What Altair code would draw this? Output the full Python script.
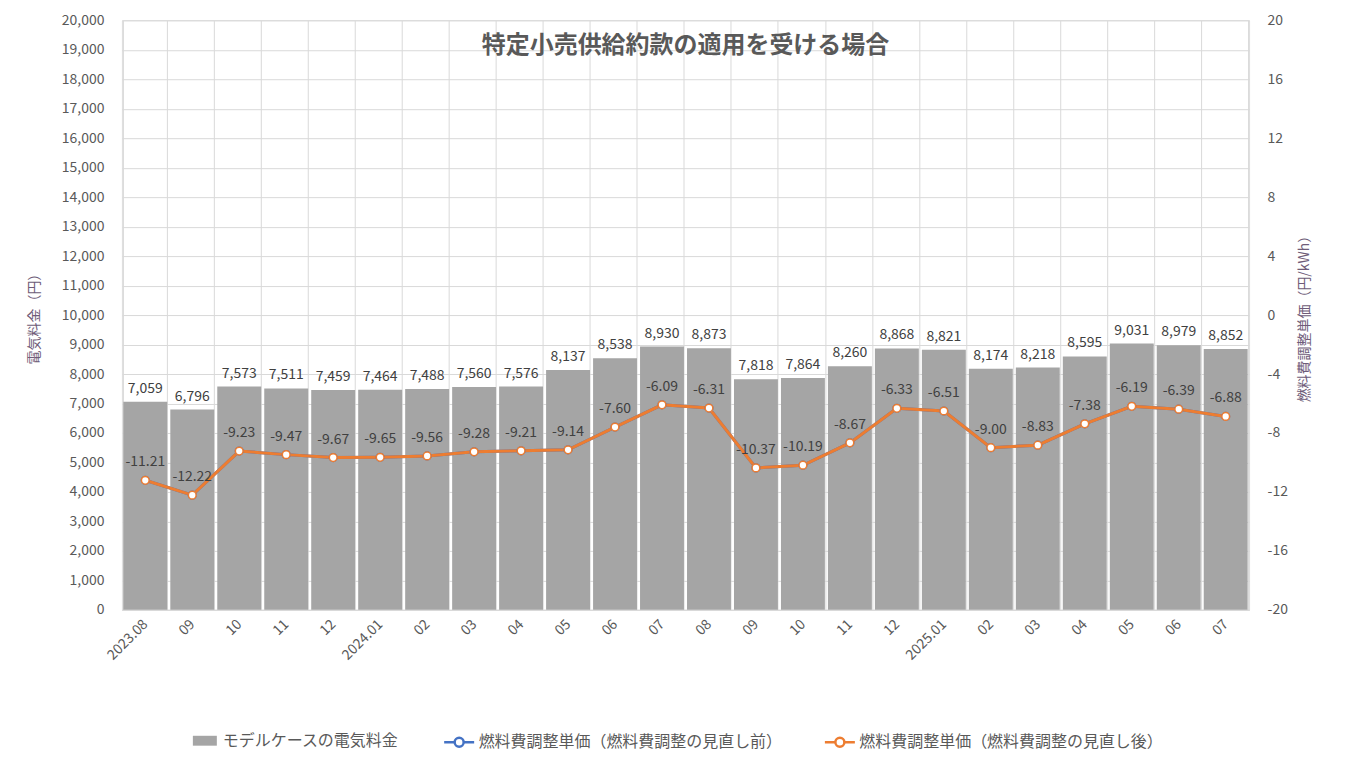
import json
import altair as alt
import pandas as pd

# ---------------- data ----------------
month_keys = [
    "2023.08", "2023.09", "2023.10", "2023.11", "2023.12",
    "2024.01", "2024.02", "2024.03", "2024.04", "2024.05", "2024.06",
    "2024.07", "2024.08", "2024.09", "2024.10", "2024.11", "2024.12",
    "2025.01", "2025.02", "2025.03", "2025.04", "2025.05", "2025.06", "2025.07",
]
tick_labels = [
    "2023.08", "09", "10", "11", "12",
    "2024.01", "02", "03", "04", "05", "06",
    "07", "08", "09", "10", "11", "12",
    "2025.01", "02", "03", "04", "05", "06", "07",
]
bill_yen = [
    7059, 6796, 7573, 7511, 7459, 7464, 7488, 7560, 7576, 8137, 8538, 8930,
    8873, 7818, 7864, 8260, 8868, 8821, 8174, 8218, 8595, 9031, 8979, 8852,
]
unit_after = [
    -11.21, -12.22, -9.23, -9.47, -9.67, -9.65, -9.56, -9.28, -9.21, -9.14,
    -7.60, -6.09, -6.31, -10.37, -10.19, -8.67, -6.33, -6.51, -9.00, -8.83,
    -7.38, -6.19, -6.39, -6.88,
]
unit_before = [
    -11.21, -12.22, -9.23, -9.47, -9.67, -9.65, -9.56, -9.28, -9.21, -9.14,
    -7.60, -6.09, -6.31, -10.37, -10.19, -8.67, -6.33, -6.51, -9.00, -8.83,
    -7.38, -6.19, -6.39, -6.88,
]

bar_name = "モデルケースの電気料金"
before_name = "燃料費調整単価（燃料費調整の見直し前）"
after_name = "燃料費調整単価（燃料費調整の見直し後）"
title_text = "特定小売供給約款の適用を受ける場合"

GRAY = "#A5A5A5"
BLUE = "#4472C4"
ORANGE = "#ED7D31"
GRID = "#D9D9D9"
TXT = "#595959"
FONT = "Noto Sans CJK JP"

df_bar = pd.DataFrame({"month": month_keys, "bill": bill_yen, "series": bar_name})
df_before = pd.DataFrame({"month": month_keys, "unit": unit_before, "series": before_name})
df_after = pd.DataFrame({"month": month_keys, "unit": unit_after, "series": after_name})
df_pts = pd.concat([df_before, df_after], ignore_index=True)

label_map = json.dumps(dict(zip(month_keys, tick_labels)), ensure_ascii=False)

X = alt.X(
    "month:N",
    sort=month_keys,
    scale=alt.Scale(paddingInner=0.065, paddingOuter=0.03),
    axis=alt.Axis(
        title=None,
        labelExpr=f"{label_map}[datum.value]",
        labelAngle=315,
        labelAlign="right",
        labelBaseline="middle",
        labelPadding=12,
        labelFontSize=14,
        labelColor=TXT,
        labelFont=FONT,
        ticks=False,
        domain=True,
        domainColor=GRID,
        grid=True,
        gridColor=GRID,
        tickBand="extent",
        labelOverlap=False,
    ),
)

y_left_scale = alt.Scale(domain=[0, 20000], nice=False)
y_right_scale = alt.Scale(domain=[-20, 20], nice=False)

left_axis = alt.Axis(
    values=list(range(0, 20001, 1000)),
    format=",.0f",
    grid=True,
    gridColor=GRID,
    domain=False,
    ticks=False,
    labelPadding=18,
    labelFontSize=14,
    labelColor=TXT,
    labelFont=FONT,
    title="電気料金（円）",
    titleFontSize=14,
    titleFontWeight="normal",
    titleColor="#6E5C78",
    titleFont=FONT,
    titlePadding=20,
)
right_axis = alt.Axis(
    orient="right",
    values=list(range(-20, 21, 4)),
    format=".0f",
    grid=False,
    domain=False,
    ticks=False,
    labelPadding=18,
    labelFontSize=14,
    labelColor=TXT,
    labelFont=FONT,
    title="燃料費調整単価（円/kWh）",
    titleFontSize=14,
    titleFontWeight="normal",
    titleColor="#6E5C78",
    titleFont=FONT,
    titleAngle=270,
    titleBaseline="top",
    titlePadding=10,
)

rect_path = "M-0.8,-0.33L0.8,-0.33L0.8,0.33L-0.8,0.33Z"
line_path = "M-1,0L-0.3,0M0.3,0L1,0M0.3,0A0.3,0.3,0,1,1,-0.3,0A0.3,0.3,0,1,1,0.3,0Z"

bar_legend = alt.Legend(
    title=None,
    orient="none",
    direction="horizontal",
    legendX=68,
    legendY=706,
    padding=0,
    symbolType=rect_path,
    symbolSize=900,
    symbolStrokeWidth=0,
    labelFontSize=16,
    labelColor=TXT,
    labelFont=FONT,
    labelOffset=3,
    labelLimit=0,
)
line_legend = alt.Legend(
    title=None,
    orient="none",
    direction="horizontal",
    legendX=321,
    legendY=706,
    padding=0,
    symbolType=line_path,
    symbolSize=900,
    symbolStrokeWidth=2.5,
    symbolFillColor="#FFFFFF",
    labelFontSize=16,
    labelColor=TXT,
    labelFont=FONT,
    labelOffset=3,
    labelLimit=0,
    columnPadding=36,
)

bars = alt.Chart(df_bar).mark_bar().encode(
    x=X,
    y=alt.Y("bill:Q", scale=y_left_scale, axis=left_axis),
    color=alt.Color(
        "series:N", scale=alt.Scale(domain=[bar_name], range=[GRAY]), legend=bar_legend
    ),
)
bar_text = alt.Chart(df_bar).mark_text(
    baseline="bottom", dy=-6, fontSize=14, color="#404040", font=FONT
).encode(
    x=X,
    y=alt.Y("bill:Q", scale=y_left_scale, axis=left_axis),
    text=alt.Text("bill:Q", format=","),
)
left = alt.layer(bars, bar_text)

y_r = alt.Y("unit:Q", scale=y_right_scale, axis=right_axis)

line_before = alt.Chart(df_before).mark_line(color=BLUE, strokeWidth=3).encode(x=X, y=y_r)
line_after = alt.Chart(df_after).mark_line(color=ORANGE, strokeWidth=3).encode(x=X, y=y_r)
pts = alt.Chart(df_pts).mark_point(
    shape="circle", filled=False, fill="white", strokeWidth=1.5, size=60, opacity=1
).encode(
    x=X,
    y=y_r,
    stroke=alt.Stroke(
        "series:N",
        scale=alt.Scale(domain=[before_name, after_name], range=[BLUE, ORANGE]),
        legend=line_legend,
    ),
)
line_text = alt.Chart(df_after).mark_text(
    baseline="bottom", dy=-11, fontSize=14, color="#404040", font=FONT
).encode(x=X, y=y_r, text=alt.Text("unit:Q", format=".2f"))

right = alt.layer(line_before, line_after, pts, line_text)

chart = (
    alt.layer(left, right)
    .resolve_scale(y="independent")
    .properties(
        width=1128,
        height=590,
        autosize=alt.AutoSizeParams(type="none"),
        padding={"left": 114, "top": 12, "right": 90, "bottom": 140},
        title=alt.TitleParams(
            text=title_text,
            anchor="middle",
            fontSize=24,
            fontWeight="bold",
            color=TXT,
            font=FONT,
            offset=-45,
        ),
    )
    .configure_view(stroke=GRID)
    .configure(
        font=FONT,
        background="white",
        locale={
            "number": {
                "decimal": ".",
                "thousands": ",",
                "grouping": [3],
                "currency": ["$", ""],
                "minus": "-",
            }
        },
    )
)

chart.save("out.html", embed_options={"renderer": "svg", "actions": False})
